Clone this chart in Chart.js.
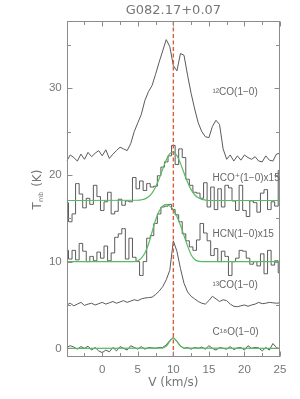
<!DOCTYPE html>
<html>
<head>
<meta charset="utf-8">
<script src="https://cdn.jsdelivr.net/npm/chart.js@4/dist/chart.umd.min.js"></script>
<style>
  html,body{margin:0;padding:0;background:#fff;}
  #wrap{width:300px;height:399px;}
</style>
</head>
<body>
<div id="wrap"><canvas id="c" width="300" height="399"></canvas></div>
<script>
// ---------------- data ----------------
const titleText = 'G082.17+0.07';
const xTitle = 'V (km/s)';
const refVelocity = 10;
const xTickLabels = [0, 5, 10, 15, 20, 25];
const yTickLabels = [0, 10, 20, 30];

const vel = [-5,-4.5,-4,-3.5,-3,-2.5,-2,-1.5,-1,-0.5,0,0.5,1,1.5,2,2.5,3,3.5,4,4.5,5,5.5,6,6.5,7,7.5,8,8.5,9,9.5,10,10.5,11,11.5,12,12.5,13,13.5,14,14.5,15,15.5,16,16.5,17,17.5,18,18.5,19,19.5,20,20.5,21,21.5,22,22.5,23,23.5,24,24.5,25];

const co12 = [21.6,22.3,22.0,21.6,22.4,21.8,22.6,22.1,22.5,22.8,
              22.2,22.9,21.9,22.4,22.8,23.2,23.0,22.8,23.6,25.0,
              26.0,27.0,28.6,29.6,30.3,31.6,33.0,34.3,35.6,34.8,
              32.6,32.0,34.0,33.8,31.5,29.4,27.6,26.0,25.0,24.4,
              24.3,25.6,26.3,25.8,23.0,21.8,22.3,21.6,22.2,21.7,
              22.3,22.0,21.8,22.1,21.6,21.5,22.2,21.7,21.6,22.4,22.5];

const hco = [16.8,14.6,15.5,19.0,17.8,16.2,17.3,16.6,18.8,17.5,
             15.9,16.9,18.0,15.5,15.8,17.2,16.5,17.0,16.9,19.7,
             18.4,19.3,18.2,19.0,18.6,18.7,19.9,20.9,21.5,22.2,
             23.4,21.2,23.0,22.0,19.5,18.8,18.0,17.9,17.3,19.1,
             16.3,18.6,16.0,18.4,16.3,18.8,18.5,17.0,15.9,18.8,
             15.9,15.2,17.0,16.8,15.7,17.9,18.3,16.0,16.9,16.4,20.5];

const hcn = [11.3,10.3,11.3,10.2,12.1,11.2,10.0,10.6,10.1,11.1,
             10.4,11.8,10.1,11.0,12.8,13.2,13.8,10.3,12.7,10.5,
             10.0,8.4,10.0,12.7,13.0,14.4,15.5,16.3,16.4,16.6,
             16.0,15.4,14.6,13.2,12.4,11.7,11.3,12.5,14.4,13.3,
             12.4,10.7,11.5,10.0,11.2,10.6,8.4,10.0,10.4,11.3,
             11.2,10.4,9.7,10.0,9.5,10.9,8.6,11.3,9.6,10.1,8.7];

const co13 = [5.0,5.2,4.9,5.1,5.3,4.95,5.1,5.2,5.0,5.15,
              5.3,5.1,5.25,5.4,5.2,5.35,5.5,5.3,5.45,5.6,
              5.5,5.7,5.8,5.85,5.9,6.2,6.6,7.1,7.9,9.0,
              12.4,11.2,9.2,7.5,6.5,6.0,5.7,5.4,5.2,5.1,
              5.5,6.0,5.7,5.4,5.6,5.5,5.1,4.85,4.8,4.9,
              5.0,4.85,5.0,5.1,5.3,5.15,5.2,5.3,5.25,5.2,5.25];

const c18o = [0.1,0.3,0.15,-0.1,0.2,0.0,0.25,-0.2,0.1,-0.3,
              -0.5,-0.2,-0.4,0.1,-0.3,0.2,0.0,-0.2,0.3,0.1,
              -0.1,0.2,-0.1,0.1,0.05,0.0,0.1,0.1,0.4,0.9,
              1.25,0.8,0.3,0.0,0.1,-0.1,0.1,0.0,0.15,-0.1,
              0.3,0.0,-0.2,0.1,0.0,-0.1,0.2,-0.15,0.05,0.1,
              -0.2,0.3,0.0,0.1,0.05,-0.3,0.1,-0.2,0.55,0.1,-0.1];

// Gaussian fits (green)
const hcoFitV = [-5,5,5.5,6,6.5,7,7.5,8,8.5,9,9.5,10,10.5,11,11.5,12,12.5,13,13.5,14,14.5,15,25];
const hcoFitT = [17.05,17.08,17.13,17.24,17.48,17.91,18.6,19.56,20.67,21.73,22.45,22.64,22.22,21.33,20.22,19.15,18.3,17.71,17.36,17.18,17.1,17.05,17.05];
const hcnFitV = [-5,4.5,5,5.5,6,6.5,7,7.5,8,8.5,9,9.5,10,10.5,11,11.5,12,12.5,13,13.5,14,25];
const hcnFitT = [10.0,10.0,10.1,10.4,11.0,12.0,13.4,14.8,15.8,16.4,16.6,16.4,16.0,15.2,14.2,13.0,11.8,10.8,10.25,10.05,10.0,10.0];
const c18oFitV = [-5,8.5,9,9.5,10,10.5,11,11.5,25];
const c18oFitT = [0,0.02,0.25,0.8,1.2,0.8,0.25,0.02,0];

// line names
const seriesNames = ['\u00B9\u00B2CO(1\u22120)','HCO\u207A(1\u22120)x15','HCN(1\u22120)x15','\u00B9\u00B3CO(1\u22120)','C\u00B9\u2078O(1\u22120)'];

// ---------------- presentation ----------------
const nameAnchorV = 15.5;
const nameAnchorT = [29.5, 19.6, 13.15, 7.3, 1.9];

const traceColor = '#5a5a5a';
const fitColor = 'rgb(88,186,98)';
const axisColor = '#8c8c8c';
const textColor = '#767676';
const refColor = 'rgb(214,96,61)';
const xMinorStep = 2.5, xMajorStep = 5;
const yMinorStep = 5, yMajorStep = 10;

Chart.defaults.font.family = "'Liberation Sans', 'DejaVu Sans', sans-serif";

function pts(xs, ys){ return xs.map((v,i)=>({x:v, y:ys[i]})); }

function trace(arr, stepped){
  return {data: pts(vel, arr), borderColor: traceColor, borderWidth: 1, pointRadius: 0,
          fill:false, stepped: stepped ? 'middle' : false, tension: 0, order: 2};
}
function fit(xs, ys){
  return {data: pts(xs, ys), borderColor: fitColor, borderWidth: 1.2, pointRadius: 0,
          fill:false, cubicInterpolationMode:'monotone', order: 1};
}

const framePlugin = {
  id: 'frame',
  afterDatasetsDraw(chart){
    const {ctx, chartArea:a, scales:{x, y}} = chart;
    ctx.save();
    // title
    ctx.fillStyle = '#777777';
    ctx.font = "13px 'DejaVu Sans', sans-serif";
    ctx.textAlign = 'center'; ctx.textBaseline = 'middle';
    ctx.fillText(titleText, (a.left + a.right)/2, 10.5);
    // reference velocity line
    const xr = x.getPixelForValue(refVelocity);
    ctx.strokeStyle = refColor; ctx.lineWidth = 1.4; ctx.setLineDash([4,2.5]);
    ctx.beginPath(); ctx.moveTo(xr, a.top); ctx.lineTo(xr, a.bottom); ctx.stroke();
    ctx.setLineDash([]);
    // frame
    ctx.strokeStyle = axisColor; ctx.lineWidth = 1;
    const L = Math.round(a.left)+0.5, R = Math.round(a.right)-0.5, T = Math.round(a.top)+0.5, B = Math.round(a.bottom)-0.5;
    ctx.strokeRect(L, T, R-L, B-T);
    ctx.beginPath();
    for (let v = Math.ceil(x.min/xMinorStep)*xMinorStep; v <= x.max + 1e-9; v += xMinorStep){
      const px = Math.round(x.getPixelForValue(v)) + 0.5;
      const len = (Math.abs(v/xMajorStep - Math.round(v/xMajorStep)) < 1e-6) ? 5 : 3.5;
      ctx.moveTo(px, B); ctx.lineTo(px, B-len);
      ctx.moveTo(px, T); ctx.lineTo(px, T+len);
    }
    for (let v = Math.ceil(y.min/yMinorStep)*yMinorStep; v <= y.max + 1e-9; v += yMinorStep){
      const py = Math.round(y.getPixelForValue(v)) + 0.5;
      const len = (Math.abs(v/yMajorStep - Math.round(v/yMajorStep)) < 1e-6) ? 5 : 3.5;
      ctx.moveTo(L, py); ctx.lineTo(L+len, py);
      ctx.moveTo(R, py); ctx.lineTo(R-len, py);
    }
    ctx.stroke();
    // line names
    ctx.fillStyle = '#666666';
    ctx.font = "10px 'Liberation Sans', 'DejaVu Sans', sans-serif";
    ctx.textBaseline = 'middle'; ctx.textAlign = 'left';
    seriesNames.forEach((s,i)=>{
      ctx.fillText(s, x.getPixelForValue(nameAnchorV), y.getPixelForValue(nameAnchorT[i]));
    });
    // y title with subscript
    ctx.translate(41, (a.top + a.bottom)/2 + 0.5);
    ctx.rotate(-Math.PI/2);
    ctx.fillStyle = textColor;
    ctx.textAlign = 'left';
    ctx.textBaseline = 'alphabetic';
    const big = "12px 'DejaVu Sans', sans-serif", small = "6.5px 'DejaVu Sans', sans-serif";
    ctx.font = big; const wT = ctx.measureText('T').width, wK = ctx.measureText(' (K)').width;
    ctx.font = small; const wS = ctx.measureText('mb').width;
    let sx = -(wT + wS + 1 + wK)/2;
    ctx.font = big; ctx.fillText('T', sx, 0); sx += wT;
    ctx.font = small; ctx.fillText('mb', sx, 1.5); sx += wS + 1;
    ctx.font = big; ctx.fillText(' (K)', sx, 0);
    ctx.restore();
  }
};

new Chart(document.getElementById('c'), {
  type: 'line',
  data: {
    datasets: [
      trace(co12, false),
      trace(hco, true),
      trace(hcn, true),
      trace(co13, false),
      trace(c18o, false),
      fit(hcoFitV, hcoFitT),
      fit(hcnFitV, hcnFitT),
      fit(c18oFitV, c18oFitT)
    ]
  },
  options: {
    responsive: false,
    animation: false,
    events: [],
    layout: {padding: {left: 0, right: 20, top: 21, bottom: 0}},
    plugins: {
      legend: {display: false},
      tooltip: {enabled: false},
      title: {display: false}
    },
    scales: {
      x: {
        type: 'linear', min: -5, max: 25,
        grid: {display: false, drawTicks: false}, border: {display: false},
        afterBuildTicks(s){ s.ticks = xTickLabels.map(v => ({value: v})); },
        ticks: {padding: 6, color: textColor, autoSkip: false, maxRotation: 0,
                font: {size: 11.5}, callback: (v) => String(v)},
        title: {display: true, text: xTitle, color: textColor,
                font: {family: "'DejaVu Sans', sans-serif", size: 12}, padding: {top: 0, bottom: 9.3}},
        afterFit(s){ s.height = 42; }
      },
      y: {
        type: 'linear', min: -1, max: 37.75,
        grid: {display: false, drawTicks: false}, border: {display: false},
        afterBuildTicks(s){ s.ticks = yTickLabels.map(v => ({value: v})); },
        ticks: {padding: 5, color: textColor, font: {size: 11.5}, autoSkip: false,
                callback: (v) => String(v)},
        afterFit(s){ s.width = 66.7; }
      }
    }
  },
  plugins: [framePlugin]
});
</script>
</body>
</html>
